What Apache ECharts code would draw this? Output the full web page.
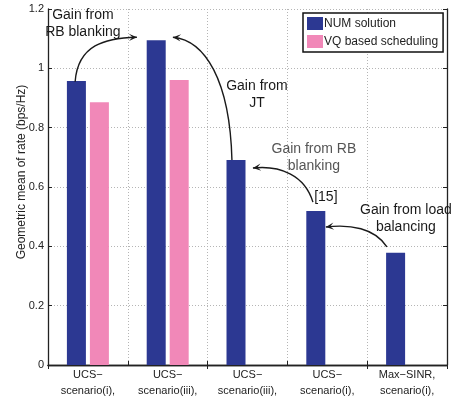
<!DOCTYPE html>
<html>
<head>
<meta charset="utf-8">
<script src="https://cdn.jsdelivr.net/npm/echarts@6/dist/echarts.min.js"></script>
<style>html,body{margin:0;padding:0;background:#fff}#c{width:455px;height:402px}</style>
</head>
<body>
<div id="c"></div>
<script>
// ---- data ----
var categories = ["UCS\u2212\nscenario(i),", "UCS\u2212\nscenario(iii),", "UCS\u2212\nscenario(iii),", "UCS\u2212\nscenario(i),", "Max\u2212SINR,\nscenario(i),"];
var seriesNames = ["NUM solution", "VQ based scheduling"];
var numSolution = [0.957, 1.095, 0.691, 0.519, 0.378];
var vqScheduling = [0.886, 0.961, null, null, null];
var yTicks = { min: 0, max: 1.2, interval: 0.2 };

// annotations in data space: [category position, value]
var annoTexts = [
  { text: "Gain from\nRB blanking", at: [-0.063, 1.149], color: "#1a1a1a" },
  { text: "Gain from\nJT", at: [2.118, 0.913], color: "#1a1a1a" },
  { text: "Gain from RB\nblanking", at: [2.832, 0.698], color: "#555555" },
  { text: "Gain from load\nbalancing", at: [3.985, 0.495], color: "#1a1a1a" },
  { text: "[15]", at: [2.982, 0.566], color: "#1a1a1a" }
];
var annoArrows = [
  [[-0.16, 0.955], [-0.125, 1.079], [0.213, 1.102], [0.614, 1.105]],
  [[1.805, 0.691], [1.779, 0.961], [1.466, 1.095], [1.065, 1.105]],
  [[2.820, 0.549], [2.719, 0.640], [2.406, 0.674], [2.068, 0.664]],
  [[3.747, 0.398], [3.596, 0.462], [3.283, 0.475], [2.982, 0.465]]
];

var FONT = "Liberation Sans, Arial, sans-serif";
var chart = echarts.init(document.getElementById('c'), null, { renderer: 'canvas' });
var axisLineStyle = { color: '#222', width: 1.3 };
var option = {
  animation: false,
  backgroundColor: '#fff',
  textStyle: { fontFamily: FONT },
  grid: { left: 48, right: 8, top: 9, bottom: 37, containLabel: false },
  legend: {
    data: seriesNames,
    orient: 'vertical',
    left: 303, top: 13,
    padding: [4, 5, 4, 4],
    itemWidth: 16, itemHeight: 13, itemGap: 5,
    icon: 'rect',
    borderColor: '#111', borderWidth: 1.5,
    backgroundColor: '#fff',
    textStyle: { fontSize: 12, color: '#222', fontFamily: FONT, padding: [0, 0, 0, -4] }
  },
  xAxis: [{
    type: 'category', data: categories, position: 'bottom',
    axisLine: { lineStyle: axisLineStyle },
    axisTick: { show: true, inside: true, length: 4, lineStyle: { color: '#222' } },
    axisLabel: { fontSize: 11, color: '#222', margin: 2, lineHeight: 16, fontFamily: FONT, interval: 0 },
    splitLine: { show: true, lineStyle: { type: [1, 2], color: '#b5b5b5', width: 1 } }
  }, {
    type: 'category', data: categories, position: 'top',
    axisLine: { lineStyle: axisLineStyle },
    axisTick: { show: true, inside: true, length: 4, lineStyle: { color: '#222' } },
    axisLabel: { show: false }, splitLine: { show: false }
  }],
  yAxis: [{
    type: 'value', min: yTicks.min, max: yTicks.max, interval: yTicks.interval,
    name: 'Geometric mean of rate (bps/Hz)', nameLocation: 'middle', nameGap: 20,
    nameMoveOverlap: false,
    nameTextStyle: { fontSize: 12, color: '#222', fontFamily: FONT, padding: [0, 0, 0, 30] },
    axisLine: { show: true, lineStyle: axisLineStyle },
    axisTick: { show: true, inside: true, length: 4, lineStyle: { color: '#222' } },
    axisLabel: { fontSize: 11, color: '#222', margin: 4, fontFamily: FONT },
    splitLine: { show: true, lineStyle: { type: [1, 2], color: '#b5b5b5', width: 1 } }
  }, {
    type: 'value', min: yTicks.min, max: yTicks.max, interval: yTicks.interval, position: 'right',
    axisLine: { show: true, lineStyle: axisLineStyle },
    axisTick: { show: true, inside: true, length: 4, lineStyle: { color: '#222' } },
    axisLabel: { show: false }, splitLine: { show: false }
  }],
  series: [{
    name: seriesNames[0], type: 'bar', data: numSolution, xAxisIndex: 0, yAxisIndex: 0,
    barWidth: 19, barGap: '21%', itemStyle: { color: '#2c3892' }
  }, {
    name: seriesNames[1], type: 'bar', data: vqScheduling, xAxisIndex: 0, yAxisIndex: 0,
    barWidth: 19, barGap: '21%', itemStyle: { color: '#f188b8' }
  }]
};
chart.setOption(option);

function px(p) {
  var c0 = chart.convertToPixel({ xAxisIndex: 0, yAxisIndex: 0 }, [0, 0]);
  var c1 = chart.convertToPixel({ xAxisIndex: 0, yAxisIndex: 0 }, [1, p[1]]);
  var band = c1[0] - c0[0];
  return [c0[0] + p[0] * band, c1[1]];
}
var graphics = [];
annoTexts.forEach(function (a) {
  var p = px(a.at);
  graphics.push({
    type: 'text', x: p[0], y: p[1], z: 100,
    style: { text: a.text, fill: a.color, font: '14px ' + FONT, align: 'center', verticalAlign: 'middle', lineHeight: 17 }
  });
});
annoArrows.forEach(function (arr) {
  var pts = arr.map(px);
  graphics.push({
    type: 'bezierCurve', z: 100,
    shape: { x1: pts[0][0], y1: pts[0][1], cpx1: pts[1][0], cpy1: pts[1][1], cpx2: pts[2][0], cpy2: pts[2][1], x2: pts[3][0], y2: pts[3][1] },
    style: { stroke: '#1a1a1a', lineWidth: 1.4, fill: null }
  });
  var tip = pts[3], from = pts[2];
  var dx = tip[0] - from[0], dy = tip[1] - from[1];
  var len = Math.sqrt(dx * dx + dy * dy); dx /= len; dy /= len;
  var L = 8, W = 3.6;
  var nx = -dy, ny = dx;
  graphics.push({
    type: 'polygon', z: 101,
    shape: { points: [
      [tip[0], tip[1]],
      [tip[0] - L * dx + W * nx, tip[1] - L * dy + W * ny],
      [tip[0] - 0.55 * L * dx, tip[1] - 0.55 * L * dy],
      [tip[0] - L * dx - W * nx, tip[1] - L * dy - W * ny]
    ] },
    style: { fill: '#1a1a1a' }
  });
});
chart.setOption({ graphic: graphics });
</script>
</body>
</html>
